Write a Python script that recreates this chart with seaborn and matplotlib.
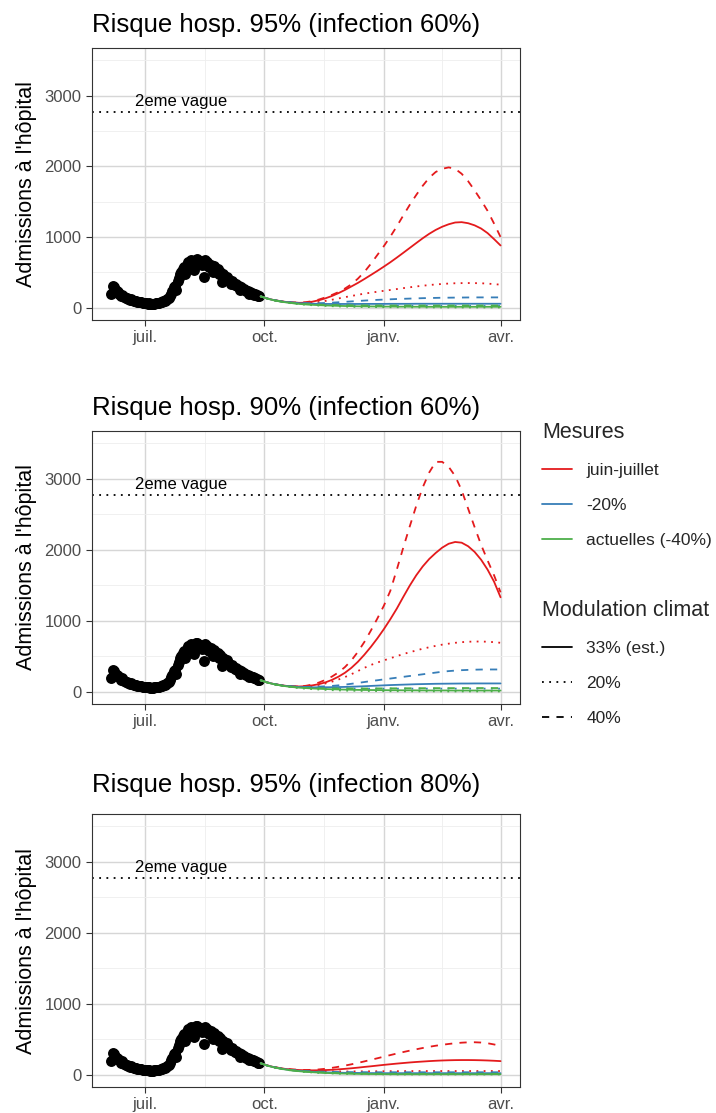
import numpy as np
import pandas as pd
import matplotlib
matplotlib.use("Agg")
import matplotlib.pyplot as plt
from matplotlib.lines import Line2D
import seaborn as sns

# ---------------- data ----------------
obs_start, obs_end = "2021-06-05", "2021-09-27"
obs_values = [190, 310, 290, 250, 230, 215, 200, 170, 185, 160,
              150, 140, 135, 125, 110, 120, 105, 100, 95, 90,
              85, 78, 85, 75, 70, 68,
              65, 60, 58, 62, 55, 57, 54, 58, 60, 62,
              66, 70, 75, 80, 90, 100, 110, 125, 140, 170,
              200, 230, 290, 310, 250, 370, 420, 470, 500, 550, 570,
              480, 600, 640, 610, 670, 590, 650, 530, 680, 690,
              620, 660, 640, 600, 430, 670, 600, 640, 570, 580,
              610, 500, 590, 540, 520, 540, 470, 510, 360, 480, 430,
              420, 440, 400, 390, 340, 370, 350, 320, 330, 300,
              310, 250, 290, 270, 260, 250, 230, 230, 200, 220,
              210, 200, 185, 190, 175, 160, 170]

proj_dates = ["2021-09-28", "2021-10-03", "2021-10-08", "2021-10-13", "2021-10-18",
              "2021-10-23", "2021-10-28", "2021-11-02", "2021-11-07", "2021-11-12",
              "2021-11-17", "2021-11-22", "2021-11-27", "2021-12-02", "2021-12-07",
              "2021-12-12", "2021-12-17", "2021-12-22", "2021-12-27", "2022-01-01",
              "2022-01-06", "2022-01-11", "2022-01-16", "2022-01-21", "2022-01-26",
              "2022-01-31", "2022-02-05", "2022-02-10", "2022-02-15", "2022-02-20",
              "2022-02-25", "2022-03-02", "2022-03-07", "2022-03-12", "2022-03-17",
              "2022-03-22", "2022-03-27", "2022-04-01"]

titles = ["Risque hosp. 95% (infection 60%)",
          "Risque hosp. 90% (infection 60%)",
          "Risque hosp. 95% (infection 80%)"]
mesures = ["juin-juillet", "-20%", "actuelles (-40%)"]
climats = ["33% (est.)", "20%", "40%"]
wave2_level = 2770
wave2_label = "2eme vague"

# panel 1 : hosp 95%, infection 60%
p1_red_solid = [160, 130, 108, 92, 80, 72, 68, 70, 85, 105, 132, 165, 205, 250, 300, 350, 405, 462, 520, 580,
                642, 708, 776, 845, 914, 982, 1045, 1100, 1145, 1180, 1205, 1210, 1195, 1165, 1120, 1055, 970, 880]
p1_red_dot = [160, 130, 108, 92, 80, 72, 66, 66, 70, 80, 95, 112, 130, 148, 165, 182, 198, 212, 225, 238,
              250, 263, 276, 288, 300, 310, 320, 328, 335, 341, 345, 347, 348, 347, 345, 340, 333, 325]
p1_red_dash = [160, 130, 108, 92, 80, 74, 72, 78, 92, 115, 145, 180, 220, 270, 330, 410, 505, 620, 745, 870,
               1005, 1150, 1305, 1455, 1595, 1725, 1838, 1920, 1965, 1985, 1965, 1895, 1790, 1660, 1520, 1370, 1190, 1000]
p1_blue_solid = [160, 130, 107, 90, 78, 69, 62, 58, 55, 53, 52, 52, 52, 52, 52, 52, 53, 53, 53, 53,
                 54, 54, 54, 54, 55, 55, 55, 55, 55, 55, 55, 55, 55, 55, 55, 55, 55, 55]
p1_blue_dot = [160, 129, 107, 90, 76, 66, 57, 52, 48, 44, 41, 38, 36, 34, 33, 31, 30, 29, 28, 27,
               27, 26, 26, 25, 25, 25, 25, 24, 24, 24, 24, 24, 24, 24, 24, 24, 24, 24]
p1_blue_dash = [160, 130, 108, 92, 80, 72, 66, 63, 62, 63, 66, 70, 76, 82, 88, 94, 100, 105, 110, 114,
                118, 122, 125, 128, 131, 134, 136, 138, 140, 141, 142, 143, 144, 145, 145, 145, 145, 145]
p1_green_solid = [160, 128, 105, 87, 73, 62, 52, 45, 40, 35, 31, 28, 25, 23, 21, 19, 18, 17, 16, 15,
                  15, 14, 14, 13, 13, 13, 12, 12, 12, 12, 12, 12, 12, 12, 12, 12, 12, 12]
p1_green_dot = [160, 128, 104, 85, 70, 58, 48, 40, 34, 29, 24, 20, 17, 14, 12, 10, 9, 8, 7, 6,
                5, 5, 4, 4, 3, 3, 3, 3, 2, 2, 2, 2, 2, 2, 2, 2, 2, 2]
p1_green_dash = [160, 129, 106, 88, 75, 64, 56, 50, 46, 43, 40, 38, 36, 35, 34, 33, 32, 31, 31, 30,
                 30, 30, 30, 30, 30, 30, 30, 30, 30, 30, 30, 30, 30, 30, 30, 30, 30, 30]

# panel 2 : hosp 90%, infection 60%
p2_red_solid = [160, 130, 108, 92, 80, 74, 72, 76, 88, 105, 130, 165, 210, 265, 335, 420, 520, 630, 750, 880,
                1020, 1170, 1335, 1495, 1640, 1765, 1870, 1955, 2030, 2085, 2110, 2100, 2050, 1970, 1860, 1720, 1550, 1330]
p2_red_dot = [160, 130, 108, 92, 80, 73, 70, 72, 80, 95, 115, 140, 170, 205, 245, 290, 335, 375, 410, 440,
              470, 500, 530, 555, 580, 605, 625, 645, 662, 676, 688, 697, 703, 706, 706, 703, 697, 688]
p2_red_dash = [160, 130, 108, 92, 80, 75, 74, 82, 100, 128, 165, 212, 270, 345, 440, 560, 700, 860, 1030, 1210,
               1420, 1720, 2030, 2330, 2620, 2880, 3090, 3240, 3240, 3170, 3040, 2840, 2580, 2320, 2070, 1850, 1640, 1400]
p2_blue_solid = [160, 130, 107, 90, 78, 70, 64, 61, 60, 60, 61, 62, 64, 66, 69, 72, 76, 80, 84, 88,
                 92, 95, 98, 101, 104, 106, 108, 110, 111, 112, 113, 114, 114, 115, 115, 115, 115, 115]
p2_blue_dot = [160, 129, 107, 90, 77, 67, 59, 54, 50, 48, 46, 45, 44, 43, 43, 42, 42, 42, 42, 42,
               42, 42, 42, 42, 42, 42, 42, 42, 42, 42, 42, 42, 42, 42, 42, 42, 42, 42]
p2_blue_dash = [160, 130, 108, 92, 80, 72, 68, 66, 68, 70, 74, 80, 88, 98, 110, 122, 135, 148, 160, 172,
                184, 196, 208, 220, 232, 244, 256, 268, 280, 289, 296, 302, 306, 309, 311, 312, 312, 312]
p2_green_solid = [160, 128, 105, 88, 74, 63, 55, 49, 44, 40, 36, 33, 30, 28, 26, 24, 23, 22, 21, 20,
                  19, 19, 18, 18, 17, 17, 16, 16, 16, 16, 15, 15, 15, 15, 15, 15, 15, 15]
p2_green_dot = [160, 128, 104, 85, 70, 58, 48, 40, 34, 29, 24, 20, 17, 14, 12, 10, 9, 8, 7, 6,
                5, 5, 4, 4, 3, 3, 3, 3, 2, 2, 2, 2, 2, 2, 2, 2, 2, 2]
p2_green_dash = [160, 129, 106, 89, 76, 66, 58, 53, 50, 48, 46, 45, 44, 44, 44, 44, 44, 44, 45, 45,
                 46, 46, 47, 47, 48, 48, 48, 49, 49, 49, 49, 50, 50, 50, 50, 50, 50, 50]

# panel 3 : hosp 95%, infection 80%
p3_red_solid = [160, 130, 107, 90, 78, 70, 64, 61, 60, 61, 64, 68, 74, 81, 89, 98, 108, 117, 127, 137,
                146, 155, 163, 171, 178, 184, 190, 195, 199, 202, 204, 205, 205, 204, 202, 199, 195, 190]
p3_red_dot = [160, 129, 107, 89, 76, 66, 58, 53, 49, 47, 45, 44, 44, 44, 45, 45, 46, 46, 47, 47,
              48, 48, 49, 49, 50, 50, 50, 50, 50, 50, 50, 50, 50, 50, 50, 50, 50, 50]
p3_red_dash = [160, 130, 108, 92, 80, 72, 67, 65, 67, 73, 82, 95, 110, 127, 145, 165, 186, 208, 230, 253,
               275, 297, 318, 338, 357, 375, 392, 407, 420, 432, 442, 450, 455, 456, 452, 442, 425, 405]
p3_blue_solid = [160, 128, 105, 87, 72, 60, 52, 45, 40, 36, 32, 29, 27, 25, 24, 23, 22, 21, 21, 20,
                 20, 20, 20, 20, 20, 20, 20, 20, 20, 20, 20, 20, 20, 20, 20, 20, 20, 20]
p3_blue_dot = [160, 128, 104, 86, 70, 58, 49, 42, 36, 31, 27, 24, 21, 19, 17, 15, 14, 13, 12, 11,
               11, 10, 10, 10, 10, 10, 10, 10, 10, 10, 10, 10, 10, 10, 10, 10, 10, 10]
p3_blue_dash = [160, 129, 106, 88, 74, 63, 55, 50, 46, 42, 40, 38, 37, 36, 35, 34, 34, 33, 33, 33,
                33, 33, 33, 33, 33, 33, 33, 33, 33, 33, 33, 33, 33, 33, 33, 33, 33, 33]
p3_green_solid = [160, 127, 103, 84, 69, 56, 47, 39, 33, 28, 23, 20, 16, 14, 12, 10, 9, 8, 7, 6,
                  6, 5, 5, 5, 5, 5, 5, 5, 5, 5, 5, 5, 5, 5, 5, 5, 5, 5]
p3_green_dot = [160, 127, 102, 83, 67, 55, 45, 37, 30, 25, 20, 16, 13, 11, 9, 7, 6, 5, 4, 3,
                3, 2, 2, 2, 2, 2, 2, 2, 2, 2, 2, 2, 2, 2, 2, 2, 2, 2]
p3_green_dash = [160, 128, 104, 86, 71, 59, 50, 43, 37, 32, 28, 25, 22, 20, 18, 16, 15, 14, 13, 12,
                 12, 11, 11, 11, 11, 11, 11, 11, 11, 11, 11, 11, 11, 11, 11, 11, 11, 11]

panels = [
    {"juin-juillet": (p1_red_solid, p1_red_dot, p1_red_dash),
     "-20%": (p1_blue_solid, p1_blue_dot, p1_blue_dash),
     "actuelles (-40%)": (p1_green_solid, p1_green_dot, p1_green_dash)},
    {"juin-juillet": (p2_red_solid, p2_red_dot, p2_red_dash),
     "-20%": (p2_blue_solid, p2_blue_dot, p2_blue_dash),
     "actuelles (-40%)": (p2_green_solid, p2_green_dot, p2_green_dash)},
    {"juin-juillet": (p3_red_solid, p3_red_dot, p3_red_dash),
     "-20%": (p3_blue_solid, p3_blue_dot, p3_blue_dash),
     "actuelles (-40%)": (p3_green_solid, p3_green_dot, p3_green_dash)},
]

# ---------------- style ----------------
sns.set_theme(style="white")
plt.rcParams["font.family"] = ["Liberation Sans", "DejaVu Sans"]

palette = {"juin-juillet": "#E41A1C", "-20%": "#377EB8", "actuelles (-40%)": "#4DAF4A"}
dashes = {"33% (est.)": "", "20%": (1, 3), "40%": (4, 4)}
LW = 1.3

W, H = 716, 1113
fig = plt.figure(figsize=(W / 100, H / 100), dpi=100)

# panel boxes in pixels (left, top, right, bottom)
boxes = [(92, 48, 520, 320), (92, 431, 520, 704), (92, 814, 520, 1087)]
title_pads = [11.5, 11.5, 16.0]

obs_df = pd.DataFrame({"date": pd.date_range(obs_start, obs_end, freq="D"),
                       "value": obs_values})
pdates = pd.to_datetime(proj_dates)

xmin, xmax = pd.Timestamp("2021-05-21"), pd.Timestamp("2022-04-16")
major_x = pd.to_datetime(["2021-07-01", "2021-10-01", "2022-01-01", "2022-04-01"])
minor_x = pd.to_datetime(["2021-08-16", "2021-11-16", "2022-02-15"])
x_labels = ["juil.", "oct.", "janv.", "avr."]

for i, (box, title, series) in enumerate(zip(boxes, titles, panels)):
    l, t, r, b = box
    ax = fig.add_axes([l / W, 1 - b / H, (r - l) / W, (b - t) / H])

    rows = []
    for m in mesures:
        for c, vals in zip(climats, series[m]):
            for d, v in zip(pdates, vals):
                rows.append({"date": d, "value": v, "Mesures": m, "Modulation climat": c})
    proj_df = pd.DataFrame(rows)

    ax.axhline(wave2_level, color="black", lw=LW, ls=(0, (1, 3)), zorder=2)
    ax.text(pd.Timestamp("2021-07-29"), 2920, wave2_label, ha="center", va="center",
            fontsize=12, color="black", zorder=3)

    sns.scatterplot(data=obs_df, x="date", y="value", color="black", s=62,
                    linewidth=0, ax=ax, zorder=3)
    sns.lineplot(data=proj_df, x="date", y="value", hue="Mesures", style="Modulation climat",
                 hue_order=mesures, style_order=climats, palette=palette, dashes=dashes,
                 estimator=None, sort=False, linewidth=LW, legend=False, ax=ax, zorder=4)

    ax.set_xlim(xmin, xmax)
    ax.set_ylim(-175, 3675)
    ax.set_xticks(major_x)
    ax.set_xticklabels(x_labels)
    ax.set_xticks(minor_x, minor=True)
    ax.set_yticks([0, 1000, 2000, 3000])
    ax.set_yticks([500, 1500, 2500, 3500], minor=True)
    ax.grid(which="major", color="#D6D6D6", lw=1.0)
    ax.grid(which="minor", color="#EEEEEE", lw=0.6)
    ax.set_axisbelow(True)
    for s in ax.spines.values():
        s.set_color("#333333")
        s.set_linewidth(0.8)
    ax.tick_params(which="major", bottom=True, left=True, length=4.5, width=0.8, color="#333333",
                   labelcolor="#4D4D4D", labelsize=12, pad=3)
    ax.tick_params(which="minor", bottom=False, left=False, length=0)
    ax.set_xlabel("")
    ax.set_ylabel("Admissions à l'hôpital", fontsize=15.5, color="black")
    ax.yaxis.set_label_coords((27 - l) / (r - l), 0.5)
    ax.yaxis.label.set_verticalalignment("center")
    ax.set_title(title, loc="left", fontsize=18.5, pad=title_pads[i], color="black")

# ---------------- legends ----------------
h1 = [Line2D([], [], color=palette[m], lw=LW) for m in mesures]
h2 = [Line2D([], [], color="black", lw=LW, ls="-"),
      Line2D([], [], color="black", lw=LW, ls=(0, (1, 3))),
      Line2D([], [], color="black", lw=LW, ls=(0, (4, 4)))]

common = dict(loc="upper left", frameon=False, fontsize=12.5, title_fontsize=15.5,
              handlelength=1.7, handletextpad=0.85, labelspacing=1.14,
              borderpad=0, borderaxespad=0, alignment="left")
fig.legend(h1, mesures, title="Mesures", bbox_to_anchor=(542 / W, 1 - 422 / H), **common)
fig.legend(h2, climats, title="Modulation climat", bbox_to_anchor=(542 / W, 1 - 600 / H), **common)

fig.savefig("out.png", dpi=100)
